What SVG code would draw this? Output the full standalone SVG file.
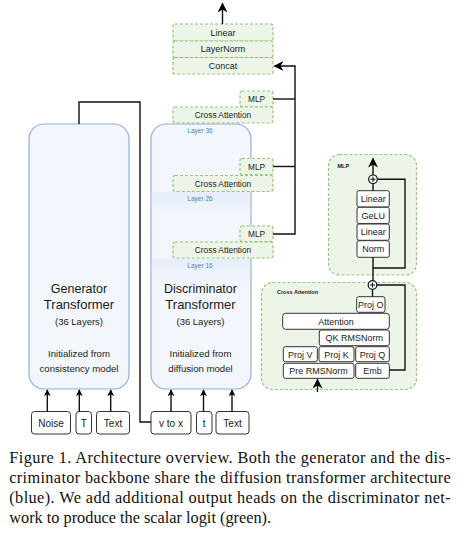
<svg xmlns="http://www.w3.org/2000/svg" width="461" height="539" viewBox="0 0 461 539">
<defs>
<marker id="arr" viewBox="0 0 10 10" refX="9" refY="5" markerWidth="7" markerHeight="7" markerUnits="userSpaceOnUse" orient="auto">
<path d="M0,0 L10,5 L0,10 L3,5 z" fill="#000"/>
</marker>
<marker id="arrL" viewBox="0 0 10 10" refX="9" refY="5" markerWidth="10" markerHeight="10" markerUnits="userSpaceOnUse" orient="auto">
<path d="M0,0 L10,5 L0,10 L3,5 z" fill="#000"/>
</marker>
<linearGradient id="band" x1="0" y1="0" x2="0" y2="1">
<stop offset="0" stop-color="#e6edf9"/>
<stop offset="1" stop-color="#f3f7fd" stop-opacity="0"/>
</linearGradient>
<style>
.sans{font-family:"Liberation Sans",Arial,sans-serif;fill:#1a1a1a;}
.blue{fill:#f3f7fd;stroke:#94aedb;stroke-width:1.2;}
.green{fill:#edf5e9;stroke:#97c47e;stroke-width:1.2;stroke-dasharray:3 2;}
.wbox{fill:#fff;stroke:#333;stroke-width:1;}
.ln{fill:none;stroke:#111;stroke-width:1.4;}
.lyr{font-family:"Liberation Sans",Arial,sans-serif;fill:#4f7fc0;font-size:6.5px;}
.cap{font-family:"Liberation Serif","Times New Roman",serif;fill:#111;font-size:16.3px;}
</style>
</defs>
<rect width="461" height="539" fill="#fff"/>

<g id="generator">
<rect class="blue" x="29" y="124" width="100" height="265" rx="15"/>
<text class="sans" x="79" y="293" font-size="12.5" text-anchor="middle">Generator</text>
<text class="sans" x="79" y="309" font-size="13" text-anchor="middle">Transformer</text>
<text class="sans" x="79" y="325" font-size="9.5" text-anchor="middle">(36 Layers)</text>
<text class="sans" x="79" y="357" font-size="9.6" text-anchor="middle">Initialized from</text>
<text class="sans" x="79" y="372" font-size="9.6" text-anchor="middle">consistency model</text>
</g>

<g id="discriminator">
<rect class="blue" x="151" y="124" width="100" height="265" rx="15"/>
<rect x="151.8" y="192" width="98.4" height="40" fill="url(#band)"/>
<rect x="151.8" y="259" width="98.4" height="40" fill="url(#band)"/>
<text class="sans" x="200.5" y="293" font-size="12.5" text-anchor="middle">Discriminator</text>
<text class="sans" x="200.5" y="309" font-size="13" text-anchor="middle">Transformer</text>
<text class="sans" x="200.5" y="325" font-size="9.5" text-anchor="middle">(36 Layers)</text>
<text class="sans" x="200.5" y="357" font-size="9.6" text-anchor="middle">Initialized from</text>
<text class="sans" x="200.5" y="372" font-size="9.6" text-anchor="middle">diffusion model</text>
<text class="lyr" x="200" y="133" text-anchor="middle">Layer 36</text>
<text class="lyr" x="200" y="201" text-anchor="middle">Layer 26</text>
<text class="lyr" x="200" y="268" text-anchor="middle">Layer 16</text>
</g>

<g id="head">
<rect class="green" x="173" y="24" width="100" height="17" rx="2"/>
<rect class="green" x="173" y="41" width="100" height="16.5" rx="2"/>
<rect class="green" x="173" y="57.5" width="100" height="16.5" rx="2"/>
<text class="sans" x="223" y="35.6" font-size="9" text-anchor="middle">Linear</text>
<text class="sans" x="223" y="52.3" font-size="9" text-anchor="middle">LayerNorm</text>
<text class="sans" x="223" y="68.8" font-size="9" text-anchor="middle">Concat</text>
</g>

<g id="layer36">
<rect class="green" x="240" y="91" width="33" height="16" rx="2"/>
<rect class="green" x="173" y="107" width="100" height="16" rx="2"/>
<text class="sans" x="256.5" y="102" font-size="8.3" text-anchor="middle">MLP</text>
<text class="sans" x="223" y="118" font-size="8.3" text-anchor="middle">Cross Attention</text>
</g>
<g id="layer26">
<rect class="green" x="240" y="158.5" width="33" height="16" rx="2"/>
<rect class="green" x="173" y="175.5" width="100" height="16" rx="2"/>
<text class="sans" x="256.5" y="169.5" font-size="8.3" text-anchor="middle">MLP</text>
<text class="sans" x="223" y="186.5" font-size="8.3" text-anchor="middle">Cross Attention</text>
</g>
<g id="layer16">
<rect class="green" x="240" y="226" width="33" height="15.5" rx="2"/>
<rect class="green" x="173" y="242" width="100" height="16" rx="2"/>
<text class="sans" x="256.5" y="236.8" font-size="8.3" text-anchor="middle">MLP</text>
<text class="sans" x="223" y="253" font-size="8.3" text-anchor="middle">Cross Attention</text>
</g>

<g id="inputs">
<rect class="wbox" x="31.5" y="411.5" width="39" height="22.5" rx="3"/>
<text class="sans" x="51" y="426.5" font-size="10" text-anchor="middle">Noise</text>
<rect class="wbox" x="76" y="411.5" width="15.5" height="22.5" rx="3"/>
<text class="sans" x="83.7" y="426.5" font-size="10" text-anchor="middle">T</text>
<rect class="wbox" x="96.5" y="411.5" width="33" height="22.5" rx="3"/>
<text class="sans" x="113" y="426.5" font-size="10" text-anchor="middle">Text</text>
<rect class="wbox" x="151" y="411.5" width="40" height="22.5" rx="3"/>
<text class="sans" x="171" y="426.5" font-size="10" text-anchor="middle">v to x</text>
<rect class="wbox" x="196.5" y="411.5" width="15.5" height="22.5" rx="3"/>
<text class="sans" x="204.2" y="426.5" font-size="10" text-anchor="middle">t</text>
<rect class="wbox" x="216" y="411.5" width="33" height="22.5" rx="3"/>
<text class="sans" x="232.5" y="426.5" font-size="10" text-anchor="middle">Text</text>
</g>

<g id="mlp-detail">
<rect class="green" x="328.5" y="154.5" width="88" height="120.5" rx="11"/>
<text class="sans" x="337.5" y="167.5" font-size="5.5" font-weight="bold">MLP</text>
<rect class="wbox" x="357" y="190.7" width="32.3" height="16.3" rx="2"/>
<text class="sans" x="373.2" y="202" font-size="9" text-anchor="middle">Linear</text>
<rect class="wbox" x="357" y="207.3" width="32.3" height="16.3" rx="2"/>
<text class="sans" x="373.2" y="218.6" font-size="9" text-anchor="middle">GeLU</text>
<rect class="wbox" x="357" y="224" width="32.3" height="16.3" rx="2"/>
<text class="sans" x="373.2" y="235.3" font-size="9" text-anchor="middle">Linear</text>
<rect class="wbox" x="357" y="240.7" width="32.3" height="16.6" rx="2"/>
<text class="sans" x="373.2" y="252" font-size="9" text-anchor="middle">Norm</text>
</g>

<g id="ca-detail">
<rect class="green" x="261.5" y="282.5" width="155" height="107" rx="11"/>
<text class="sans" x="277" y="294" font-size="5.5" font-weight="bold">Cross Attention</text>
<rect class="wbox" x="356.7" y="296.7" width="28.3" height="15.6" rx="2"/>
<text class="sans" x="370.8" y="307.6" font-size="9" text-anchor="middle">Proj O</text>
<rect class="wbox" x="282.7" y="313.3" width="106.6" height="16" rx="3"/>
<text class="sans" x="336" y="324.5" font-size="9" text-anchor="middle">Attention</text>
<rect class="wbox" x="319.3" y="330" width="70" height="15.7" rx="2"/>
<text class="sans" x="354.3" y="341.1" font-size="9" text-anchor="middle">QK RMSNorm</text>
<rect class="wbox" x="283.3" y="346.7" width="34" height="15" rx="2"/>
<text class="sans" x="300.3" y="357.5" font-size="9" text-anchor="middle">Proj V</text>
<rect class="wbox" x="319" y="346.7" width="35" height="15" rx="2"/>
<text class="sans" x="336.5" y="357.5" font-size="9" text-anchor="middle">Proj K</text>
<rect class="wbox" x="355.7" y="346.7" width="33.6" height="15" rx="2"/>
<text class="sans" x="372.5" y="357.5" font-size="9" text-anchor="middle">Proj Q</text>
<rect class="wbox" x="283.3" y="363.3" width="70.7" height="15" rx="2"/>
<text class="sans" x="318.6" y="374" font-size="9" text-anchor="middle">Pre RMSNorm</text>
<rect class="wbox" x="355.7" y="363.3" width="33.6" height="15" rx="2"/>
<text class="sans" x="372.5" y="374" font-size="9" text-anchor="middle">Emb</text>
</g>

<g id="connectors">
<path class="ln" d="M79,124 V102 H140 V422 H151"/>
<path class="ln" d="M47.3,411.5 V390" marker-end="url(#arr)"/>
<path class="ln" d="M79.3,411.5 V390" marker-end="url(#arr)"/>
<path class="ln" d="M110.7,411.5 V390" marker-end="url(#arr)"/>
<path class="ln" d="M171,411.5 V390" marker-end="url(#arr)"/>
<path class="ln" d="M203.5,411.5 V390" marker-end="url(#arr)"/>
<path class="ln" d="M232,411.5 V390" marker-end="url(#arr)"/>
<path class="ln" d="M273,99 H295"/>
<path class="ln" d="M273,166.5 H295"/>
<path class="ln" d="M273,234 H295 V66 H274.5" marker-end="url(#arrL)"/>
<path class="ln" d="M222.5,24 V3.5" marker-end="url(#arrL)"/>
<path class="ln" d="M373,175 V158.5" marker-end="url(#arrL)"/>
<path class="ln" d="M373,183.6 V190.7"/>
<path class="ln" d="M373,257.3 V280.7"/>
<path class="ln" d="M373,268 H405 V179.3 H377.3"/>
<path class="ln" d="M372.5,289.3 V296.7"/>
<path class="ln" d="M389.3,370 H405 V285 H376.8"/>
<path class="ln" d="M317.5,392 V379.5" marker-end="url(#arrL)"/>
<g fill="#fff" stroke="#111" stroke-width="1.2">
<circle cx="373" cy="179.3" r="4.3"/>
<circle cx="372.5" cy="285" r="4.3"/>
</g>
<path d="M370.4,179.3 H375.6 M373,176.7 V181.9 M369.9,285 H375.1 M372.5,282.4 V287.6" stroke="#111" stroke-width="1.1" fill="none"/>
</g>

<g id="caption">
<text class="cap" x="9.3" y="463" textLength="441.4" lengthAdjust="spacing">Figure 1.  Architecture overview.  Both the generator and the dis-</text>
<text class="cap" x="9.3" y="483" textLength="441.4" lengthAdjust="spacing">criminator backbone share the diffusion transformer architecture</text>
<text class="cap" x="9.3" y="503" textLength="441.4" lengthAdjust="spacing">(blue).  We add additional output heads on the discriminator net-</text>
<text class="cap" x="9.3" y="523">work to produce the scalar logit (green).</text>
</g>
</svg>
